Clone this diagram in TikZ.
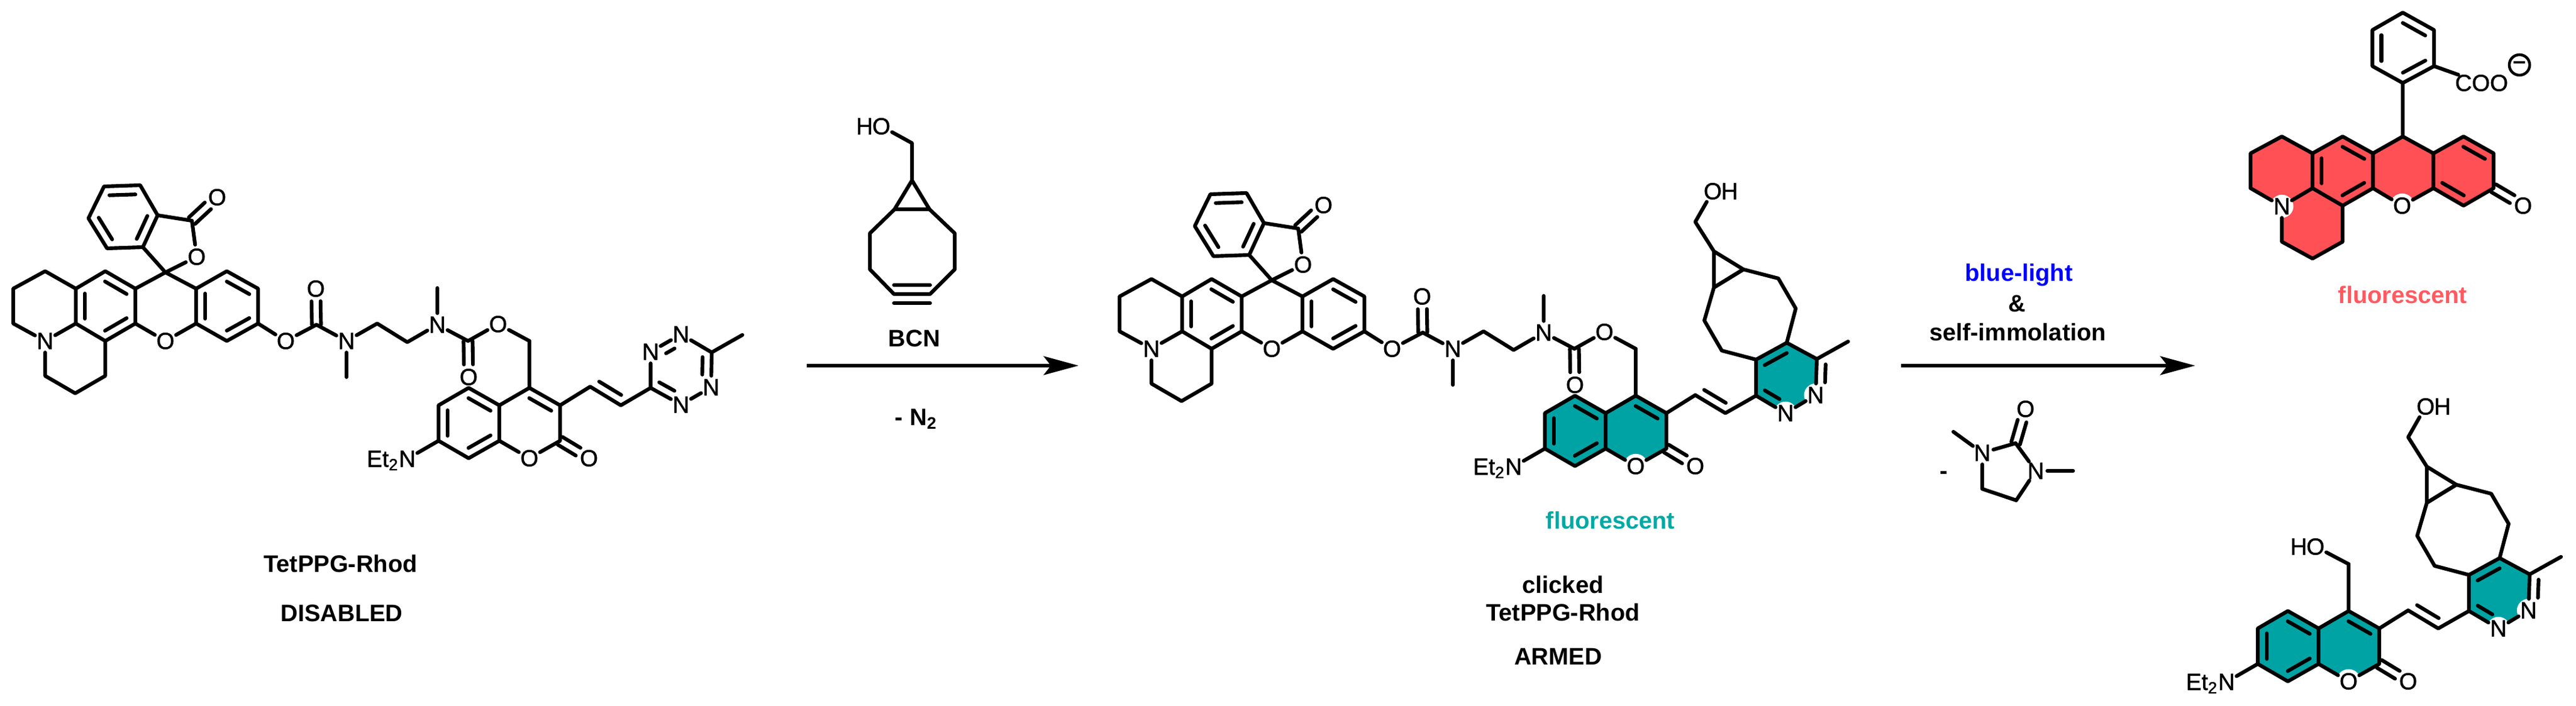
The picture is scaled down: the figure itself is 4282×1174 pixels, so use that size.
\documentclass[tikz,border=0pt]{standalone}
\usepackage{fontspec}
\setmainfont{Liberation Sans}
\newfontfamily\atomfont[FakeBold=1.2]{Liberation Sans}
\usetikzlibrary{calc,arrows.meta}
\definecolor{tealfill}{HTML}{00A3A3}
\definecolor{tealtext}{HTML}{00A9A5}
\definecolor{redfill}{HTML}{FF5055}
\definecolor{redtext}{HTML}{FF5A60}
\tikzset{
  bond/.style={line width=1.75pt,line cap=round,line join=round},
  atom/.style={circle,fill=white,inner sep=0pt,outer sep=0pt,minimum size=0.38cm,font=\atomfont\fontsize{11}{13}\selectfont},
  atomtext/.style={inner sep=0pt,outer sep=0pt,font=\atomfont\fontsize{11}{13}\selectfont},
  lab/.style={inner sep=0pt,font=\bfseries\fontsize{11.3}{13}\selectfont},
  rarrow/.style={line width=1.75pt,-{Stealth[length=0.58cm,width=0.31cm,inset=0.12cm]}},
}
\newcommand\dbn[4]{\draw[bond] ($(#1)!#3!(#2)!0.15cm!90:(#2)$) -- ($(#2)!#4!(#1)!0.15cm!-90:(#1)$);}
\newcommand\dblin[2]{\dbn{#1}{#2}{.14}{.14}}
\newcommand\dblsym[2]{%
  \draw[bond,shorten >=0.21cm] ($(#1)!0.075cm!90:(#2)$) -- ($(#2)!0.075cm!-90:(#1)$);
  \draw[bond,shorten >=0.21cm] ($(#1)!0.075cm!-90:(#2)$) -- ($(#2)!0.075cm!90:(#1)$);}
% rhodamine lactone, julolidine and carbamate chain
\newcommand\rhodcore{%
  \node[atom] (lacO) at (327,427) {O};
  \node[atom] (lacdO) at (361,328) {O};
  \node[atom] (julN) at (75,567) {N};
  \node[atom] (xanO) at (275,567) {O};
  \node[atom] (estO) at (475,567) {O};
  \node[atom] (carbdO) at (525,480) {O};
  \node[atom] (Na) at (576,567) {N};
  \node[atom] (Nb) at (727,540) {N};
  \node[atom] (carbdOb) at (779,627) {O};
  \node[atom] (estOb) at (828,539) {O};
  \coordinate (p1) at (173,310); \coordinate (p2) at (233,308); \coordinate (p3) at (262,358);
  \coordinate (p4) at (237.5,411); \coordinate (p5) at (178,413); \coordinate (p6) at (147,363);
  \coordinate (lacC) at (319,367); \coordinate (spiro) at (275,453);
  \coordinate (j1) at (22,480); \coordinate (j2) at (75,451); \coordinate (j3) at (126,480);
  \coordinate (j4) at (175,451); \coordinate (j5) at (225,480); \coordinate (j6) at (225,538);
  \coordinate (j7) at (175,567); \coordinate (j8) at (126,538); \coordinate (j9) at (22,538);
  \coordinate (j10) at (75,625); \coordinate (j11) at (125,654); \coordinate (j12) at (175,625);
  \coordinate (r1) at (326,480); \coordinate (r2) at (377,451); \coordinate (r3) at (429,480);
  \coordinate (r4) at (429,538); \coordinate (r5) at (377,567); \coordinate (r6) at (326,538);
  \coordinate (carbC) at (526,540); \coordinate (meA) at (576,627);
  \coordinate (e1) at (627,538); \coordinate (e2) at (677,569);
  \coordinate (meB) at (727,479); \coordinate (carbCb) at (778,567);
  \draw[bond] (p1)--(p2)--(p3)--(p4)--(p5)--(p6)--cycle;
  \dblin{p2}{p1}\dblin{p6}{p5}\dblin{p4}{p3}
  \draw[bond] (p3)--(lacC) (lacC)--(lacO) (lacO)--(spiro) (p4)--(spiro);
  \dblsym{lacC}{lacdO}
  \draw[bond] (spiro)--(j5) (spiro)--(r1);
  \draw[bond] (julN)--(j9)--(j1)--(j2)--(j3)--(j4)--(j5)--(j6)--(j7)--(j8)--(j3);
  \draw[bond] (julN)--(j8) (julN)--(j10)--(j11)--(j12)--(j7);
  \dblin{j3}{j8}\dblin{j7}{j6}\dblin{j5}{j4}
  \draw[bond] (j6)--(xanO) (xanO)--(r6);
  \draw[bond] (r1)--(r2)--(r3)--(r4)--(r5)--(r6)--cycle;
  \dblin{r3}{r2}\dblin{r1}{r6}\dblin{r5}{r4}
  \draw[bond] (r4)--(estO) (estO)--(carbC) (carbC)--(Na) (Na)--(meA) (Na)--(e1)--(e2)--(Nb) (Nb)--(meB) (Nb)--(carbCb) (carbCb)--(estOb);
  \dblsym{carbC}{carbdO}
  \dblsym{carbCb}{carbdOb}
}
\newcommand\coumfill{\fill[tealfill] (779,645)--(830,674)--(880,645)--(931,674)--(931,733)--(880,762)--(830,733)--(779,762)--(729,733)--(729,674)--cycle;}
% coumarin with its 4-CH2 and NEt2
\newcommand\coumarin{%
  \node[atom] (couO) at (880,762) {O};
  \node[atom] (coudO) at (979,762) {O};
  \node[atom] (amN) at (677,763) {N};
  \node[atomtext,anchor=base east] (amEt) at ($(amN.base)+(-14,0)$) {Et\textsubscript{2}};
  \coordinate (c1) at (779,645); \coordinate (c2) at (830,674); \coordinate (c3) at (830,733);
  \coordinate (c4) at (779,762); \coordinate (c5) at (729,733); \coordinate (c6) at (729,674);
  \coordinate (C4) at (880,645); \coordinate (C3) at (931,674); \coordinate (C2) at (931,733);
  \coordinate (CHt) at (880,567);
  \draw[bond] (c1)--(c2)--(c3)--(c4)--(c5)--(c6)--cycle;
  \dblin{c2}{c1}\dblin{c6}{c5}\dblin{c4}{c3}
  \draw[bond] (c2)--(C4)--(C3)--(C2)--(couO) (couO)--(c3) (C4)--(CHt) (c5)--(amN);
  \dblin{C3}{C4}
  \dblsym{C2}{coudO}
}
% cycloheptapyridazine unit, positions as in the armed compound
\newcommand\pyridazine{%
  \node[atom] (pyN1) at (2968,687) {N};
  \node[atom] (pyN2) at (3018,657) {N};
  \node[atom] (hyO) at (2847,318) {O};
  \node[atomtext,anchor=base west] (hyH) at ($(hyO.base)+(14,0)$) {H};
  \coordinate (v1) at (2818,657); \coordinate (v2) at (2868,687);
  \coordinate (py1) at (2919,658); \coordinate (py2) at (2919,598); \coordinate (py3) at (2970,570); \coordinate (py4) at (3020,597);
  \coordinate (pyMe) at (3072,568);
  \coordinate (b1) at (2862,583); \coordinate (b2) at (2833,533); \coordinate (b3) at (2849,478);
  \coordinate (b4) at (2898,448); \coordinate (b5) at (2956,463); \coordinate (b6) at (2985,513);
  \coordinate (cp) at (2849,418); \coordinate (hyC) at (2818,369);
  \draw[bond] (py1)--(py2)--(py3)--(py4) (py4)--(pyN2) (pyN2)--(pyN1) (pyN1)--(py1) (py4)--(pyMe);
  \dblin{py3}{py2}
  \dbn{py4}{pyN2}{.14}{.36}
  \dbn{py1}{pyN1}{.14}{.36}
  \draw[bond] (py2)--(b1)--(b2)--(b3)--(b4)--(b5)--(b6)--(py3);
  \draw[bond] (b3)--(cp)--(b4)--cycle (cp)--(hyC)--(hyO);
  \draw[bond] (v1)--(v2)--(py1);
  \dbn{v1}{v2}{.14}{.14}
}
\newcommand\pyrfill{\fill[tealfill] (2919,658)--(2919,598)--(2970,570)--(3020,597)--(3018,657)--(2968,687)--cycle;}
\begin{document}
\begin{tikzpicture}[x=0.01cm,y=-0.01cm]
\useasboundingbox (0,0) rectangle (4282,1174);
% ---- compound 1
\begin{scope}[name prefix=a-]
  \rhodcore
  \coumarin
  \draw[bond] (estOb)--(CHt);
  \node[atom] (tz1) at (1132,673) {N};
  \node[atom] (tz2) at (1182,644) {N};
  \node[atom] (tz3) at (1132,556) {N};
  \node[atom] (tz4) at (1081.5,585) {N};
  \coordinate (va) at (981,643); \coordinate (vb) at (1032,674);
  \coordinate (tzC) at (1081.5,645); \coordinate (tzD) at (1183,586); \coordinate (tzMe) at (1234,557);
  \draw[bond] (C3)--(va)--(vb)--(tzC) (tzC)--(tz1) (tz1)--(tz2) (tz2)--(tzD) (tzD)--(tz3) (tz3)--(tz4) (tz4)--(tzC) (tzD)--(tzMe);
  \dblin{va}{vb}
  \dbn{tzC}{tz1}{.14}{.36}
  \dbn{tz2}{tzD}{.36}{.14}
  \dbn{tz3}{tz4}{.36}{.36}
\end{scope}
\node[lab] (name1) at (566,937) {TetPPG-Rhod};
\node[lab] (state1) at (568,1020) {DISABLED};
% ---- BCN
\node[atom] (bcnO) at (1465,210) {O};
\node[atomtext,anchor=base east] (bcnH) at ($(bcnO.base)+(-14,0)$) {H};
\coordinate (bc) at (1516,238); \coordinate (bt) at (1516,300); \coordinate (bl) at (1487,348); \coordinate (brr) at (1545,348);
\coordinate (b1) at (1446,388); \coordinate (b2) at (1446,448); \coordinate (b3) at (1486,489);
\coordinate (b4) at (1546,489); \coordinate (b5) at (1587,448); \coordinate (b6) at (1587,388);
\draw[bond] (bcnO)--(bc)--(bt) (bt)--(bl)--(brr)--cycle;
\draw[bond] (bl)--(b1)--(b2)--(b3)--(b4)--(b5)--(b6)--(brr);
\dbn{b3}{b4}{0}{0}
\dbn{b4}{b3}{0}{0}
\node[lab] (bcnlab) at (1520,563) {BCN};
\coordinate (ar1a) at (1341,608); \coordinate (ar1b) at (1793,608);
\draw[rarrow] (ar1a)--(ar1b);
\node[lab] (n2lab) at (1523,697) {- N\textsubscript{2}};
% ---- compound 2
\begin{scope}[name prefix=b-]
  \begin{scope}[shift={(1839,13)}]
    \coumfill
    \rhodcore
    \coumarin
    \draw[bond] (estOb)--(CHt);
  \end{scope}
  \pyrfill
  \pyridazine
  \draw[bond] (C3)--(v1);
\end{scope}
\node[lab,text=tealtext] (fl2) at (2677,865) {fluorescent};
\node[lab] (cl2) at (2598,972) {clicked};
\node[lab] (name2) at (2598,1018) {TetPPG-Rhod};
\node[lab] (state2) at (2590,1092) {ARMED};
% ---- second arrow
\coordinate (ar2a) at (3160,608); \coordinate (ar2b) at (3649,608);
\draw[rarrow] (ar2a)--(ar2b);
\node[lab,text=blue] (bl) at (3356,457) {blue-light};
\node[lab] (amp) at (3353,505) {\&};
\node[lab] (si) at (3354,552) {self-immolation};
% ---- dimethylimidazolidinone
\node[lab] (minus) at (3231,790) {-};
\node[atom] (dmO) at (3367,680) {O};
\node[atom] (dmN1) at (3295,753) {N};
\node[atom] (dmN2) at (3384,783) {N};
\coordinate (dmC) at (3350.5,737); \coordinate (dmMa) at (3247,718); \coordinate (dmMb) at (3446,783);
\coordinate (dmCa) at (3295,813); \coordinate (dmCb) at (3351.5,832);
\draw[bond] (dmC)--(dmN1) (dmC)--(dmN2) (dmN1)--(dmMa) (dmN2)--(dmMb) (dmN1)--(dmCa)--(dmCb)--(dmN2);
\dblsym{dmC}{dmO}
% ---- red product
\fill[redfill] (3793,227)--(3844,255)--(3894,227)--(3944.5,255)--(3994,227)--(4045,255)--(4095,227)--(4145,255)--(4145,313)--(4095,342)--(4045,313)--(3994,342)--(3944.5,313)--(3894,342)--(3894,402)--(3844,430)--(3793,402)--(3793,343)--(3741,313)--(3741,255)--cycle;
\node[atom] (rN) at (3793,343) {N};
\node[atom] (rO) at (3993,342) {O};
\node[atom] (rdO) at (4194,342) {O};
\node[atomtext] (coo) at (4125,138) {COO};
\node[circle,draw,line width=1.3pt,inner sep=0pt,minimum size=0.34cm,font=\bfseries\fontsize{11}{12}\selectfont] (chg) at (4188,108) {\textendash};
\coordinate (ph1) at (3994,21); \coordinate (ph2) at (3943.5,50); \coordinate (ph3) at (3943.5,110);
\coordinate (ph4) at (3994,138); \coordinate (ph5) at (4046,110); \coordinate (ph6) at (4046,50);
\draw[bond] (ph1)--(ph2)--(ph3)--(ph4)--(ph5)--(ph6)--cycle;
\dblin{ph6}{ph1}\dblin{ph2}{ph3}\dblin{ph4}{ph5}
\draw[bond] (ph5)--(coo);
\coordinate (x1) at (3793,227); \coordinate (x2) at (3741,255); \coordinate (x3) at (3741,313);
\coordinate (x4) at (3844,255); \coordinate (x5) at (3844,313); \coordinate (x6) at (3894,227);
\coordinate (x7) at (3894,342); \coordinate (x8) at (3944.5,255); \coordinate (x9) at (3944.5,313);
\coordinate (x10) at (3994,227); \coordinate (x11) at (4045,255); \coordinate (x12) at (4045,313);
\coordinate (x13) at (4095,227); \coordinate (x14) at (4095,342); \coordinate (x15) at (4145,255); \coordinate (x16) at (4145,313);
\coordinate (x17) at (3793,402); \coordinate (x18) at (3844,430); \coordinate (x19) at (3894,402);
\draw[bond] (x3)--(x2)--(x1)--(x4)--(x6)--(x8)--(x10)--(x11)--(x13)--(x15)--(x16)--(x14)--(x12)--(rO) (rO)--(x9)--(x7)--(x5)--(rN) (rN)--(x3);
\draw[bond] (x4)--(x5) (x8)--(x9) (x11)--(x12) (x10)--(ph4) (rN)--(x17)--(x18)--(x19)--(x7);
\dblin{x4}{x5}\dblin{x7}{x9}\dblin{x8}{x6}\dblin{x15}{x13}\dblin{x12}{x14}
\dblsym{x16}{rdO}
\node[lab,text=redtext] (fl3) at (3994,490) {fluorescent};
% ---- teal product
\begin{scope}[name prefix=c-]
  \begin{scope}[shift={(3024,371)}]
    \coumfill
    \coumarin
    \node[atom] (hoO) at (825,538) {O};
    \node[atomtext,anchor=base east] (hoH) at ($(hoO.base)+(-14,0)$) {H};
    \draw[bond] (hoO)--(CHt);
  \end{scope}
  \begin{scope}[shift={(1185,358)}]
    \pyrfill
    \pyridazine
  \end{scope}
  \draw[bond] (C3)--(v1);
\end{scope}
\end{tikzpicture}
\end{document}
